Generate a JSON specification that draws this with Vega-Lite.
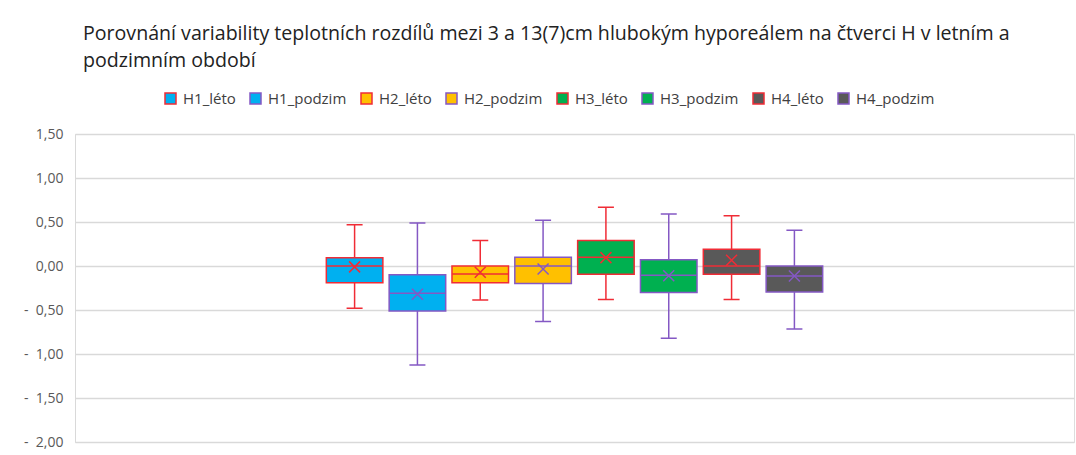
{
  "$schema": "https://vega.github.io/schema/vega-lite/v6.json",
  "autosize": "none",
  "width": 999,
  "height": 308,
  "padding": {"left": 75, "top": 134, "right": 2, "bottom": 13},
  "background": "white",
  "title": {
    "text": ["Porovnání variability teplotních rozdílů mezi 3 a 13(7)cm hlubokým hyporeálem na čtverci H v letním a", "podzimním období"],
    "anchor": "start",
    "frame": "group",
    "dx": 8,
    "offset": 19,
    "font": "Open Sans",
    "fontSize": 19.6,
    "fontWeight": "normal",
    "color": "#222222",
    "lineHeight": 27
  },
  "data": {
    "values": [
      {"series": "H1_léto", "lo": -0.48, "q1": -0.19, "med": 0.0, "q3": 0.094, "hi": 0.47, "mean": -0.01},
      {"series": "H1_podzim", "lo": -1.125, "q1": -0.51, "med": -0.31, "q3": -0.10, "hi": 0.49, "mean": -0.32},
      {"series": "H2_léto", "lo": -0.386, "q1": -0.19, "med": -0.09, "q3": 0.0, "hi": 0.29, "mean": -0.07},
      {"series": "H2_podzim", "lo": -0.63, "q1": -0.20, "med": 0.0, "q3": 0.10, "hi": 0.52, "mean": -0.035},
      {"series": "H3_léto", "lo": -0.38, "q1": -0.095, "med": 0.10, "q3": 0.29, "hi": 0.667, "mean": 0.095},
      {"series": "H3_podzim", "lo": -0.82, "q1": -0.30, "med": -0.106, "q3": 0.07, "hi": 0.59, "mean": -0.11},
      {"series": "H4_léto", "lo": -0.38, "q1": -0.095, "med": 0.0, "q3": 0.19, "hi": 0.57, "mean": 0.065},
      {"series": "H4_podzim", "lo": -0.716, "q1": -0.295, "med": -0.114, "q3": 0.0, "hi": 0.405, "mean": -0.114}
    ]
  },
  "encoding": {
    "x": {
      "field": "series",
      "type": "nominal",
      "sort": null,
      "scale": {
        "domain": [" a", " b", " c", " d", "H1_léto", "H1_podzim", "H2_léto", "H2_podzim", "H3_léto", "H3_podzim", "H4_léto", "H4_podzim", " e", " f", " g", " h"],
        "paddingInner": 0.1,
        "paddingOuter": 0
      },
      "axis": null
    },
    "stroke": {
      "field": "series",
      "type": "nominal",
      "sort": null,
      "scale": {
        "domain": ["H1_léto", "H1_podzim", "H2_léto", "H2_podzim", "H3_léto", "H3_podzim", "H4_léto", "H4_podzim"],
        "range": ["#F02C36", "#8458C4", "#F02C36", "#8458C4", "#F02C36", "#8458C4", "#F02C36", "#8458C4"]
      }
    }
  },
  "layer": [
    {
      "mark": {"type": "rule", "strokeWidth": 1.5},
      "encoding": {
        "y": {
          "field": "lo",
          "type": "quantitative",
          "scale": {"domain": [-2, 1.5], "nice": false, "zero": false},
          "axis": {
            "title": null,
            "values": [-2, -1.5, -1, -0.5, 0, 0.5, 1, 1.5],
            "labelExpr": "(datum.value < 0 ? '-\u00a0\u00a0' : '') + replace(format(abs(datum.value), '.2f'), '.', ',')",
            "labelFont": "Open Sans",
            "labelFontSize": 14,
            "labelColor": "#595959",
            "labelPadding": 12,
            "ticks": false,
            "domain": true,
            "domainColor": "#D9D9D9",
            "domainWidth": 1,
            "grid": true,
            "gridColor": "#D9D9D9",
            "gridWidth": 1.3
          }
        },
        "y2": {"field": "hi"}
      }
    },
    {
      "mark": {"type": "tick", "size": 16, "thickness": 0, "strokeWidth": 1.5, "opacity": 1},
      "encoding": {
        "y": {"field": "hi", "type": "quantitative"}
      }
    },
    {
      "mark": {"type": "tick", "size": 16, "thickness": 0, "strokeWidth": 1.5, "opacity": 1},
      "encoding": {
        "y": {"field": "lo", "type": "quantitative"}
      }
    },
    {
      "mark": {"type": "bar", "strokeWidth": 1.5},
      "encoding": {
        "y": {"field": "q1", "type": "quantitative"},
        "y2": {"field": "q3"},
        "fill": {
          "field": "series",
          "type": "nominal",
          "sort": null,
          "scale": {
            "domain": ["H1_léto", "H1_podzim", "H2_léto", "H2_podzim", "H3_léto", "H3_podzim", "H4_léto", "H4_podzim"],
            "range": ["#00B0F0", "#00B0F0", "#FFC000", "#FFC000", "#00B050", "#00B050", "#595959", "#595959"]
          },
          "legend": {
            "title": null,
            "orient": "none",
            "direction": "horizontal",
            "legendX": 88,
            "legendY": -43,
            "symbolType": "square",
            "symbolSize": 121,
            "symbolStrokeWidth": 1.5,
            "labelFont": "Open Sans",
            "labelFontSize": 15,
            "labelColor": "#404040",
            "labelOffset": 5,
            "columnPadding": 11
          }
        }
      }
    },
    {
      "mark": {"type": "tick", "size": 56, "thickness": 0, "strokeWidth": 1.5, "opacity": 1},
      "encoding": {
        "y": {"field": "med", "type": "quantitative"}
      }
    },
    {
      "mark": {"type": "point", "shape": "M-1,-1L1,1M-1,1L1,-1", "size": 121, "filled": false, "strokeWidth": 1.5, "opacity": 1},
      "encoding": {
        "y": {"field": "mean", "type": "quantitative"}
      }
    }
  ]
}
